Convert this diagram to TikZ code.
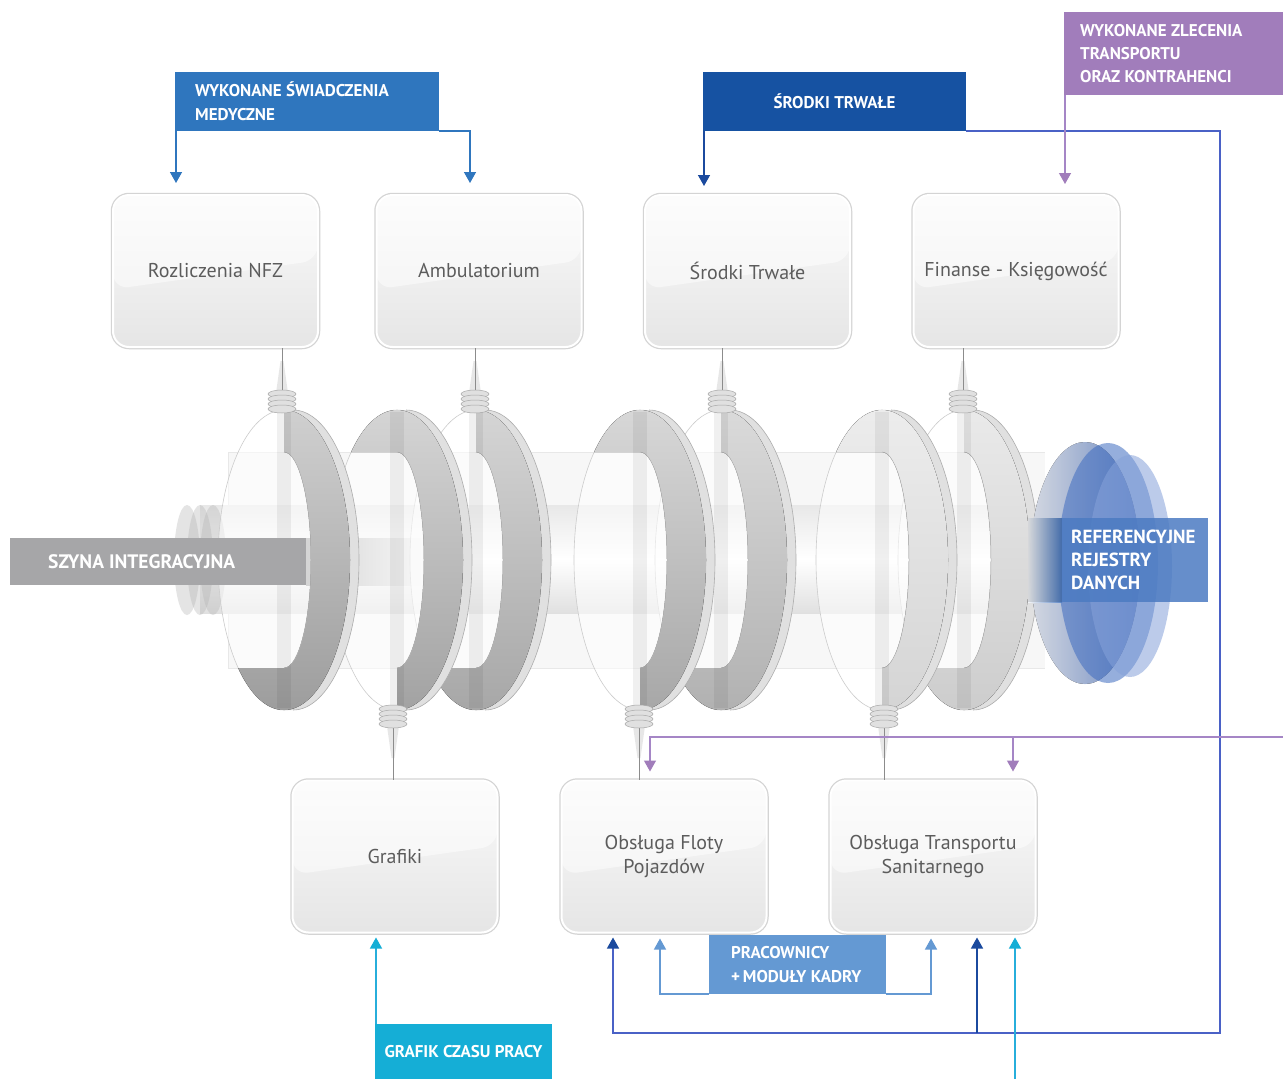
\documentclass[tikz,border=0pt]{standalone}
\usepackage{fontspec}
\setmainfont{PT Sans}
\usetikzlibrary{arrows.meta,calc}
\definecolor{cWSM}{HTML}{2F76BE}
\definecolor{cST}{HTML}{1652A2}
\definecolor{cZL}{HTML}{A17DBB}
\definecolor{cSZ}{HTML}{A6A6A8}
\definecolor{cRef}{HTML}{4C7BC2}
\definecolor{cPrac}{HTML}{6499D3}
\definecolor{cGraf}{HTML}{15AED6}
\definecolor{cBus}{HTML}{4A61C6}
\definecolor{cBusTip}{HTML}{1B4A9E}
\definecolor{cPur}{HTML}{A586C6}
\definecolor{cCyan}{HTML}{27AEDB}
\definecolor{cText}{HTML}{5C5C5C}
\definecolor{cD1}{HTML}{7393D2}
\definecolor{cD2}{HTML}{3F6CC0}
\definecolor{cD3}{HTML}{86A2DA}

\newcommand\ringbase[1]{%
  \fill[black!12] (#1,410) -- ({#1+9},410) arc[start angle=-90,end angle=90,x radius=66,y radius=150] -- (#1,710) arc[start angle=90,end angle=-90,x radius=66,y radius=150] -- cycle;
  \draw[black!32,line width=.6pt] ({#1+9},410) arc[start angle=-90,end angle=90,x radius=66,y radius=150];
  \fill[white,fill opacity=.55] (#1,560) ellipse[x radius=66,y radius=150];
  \draw[black!20,line width=.6pt] (#1,560) ellipse[x radius=66,y radius=150];
}
\newcommand\ringgray[4]{% cx, clip polygon, top, bottom
  \begin{scope}
    \clip (#1,560) ellipse[x radius=66,y radius=150];
    \clip #2;
    \fill[top color=#3,bottom color=#4,even odd rule] ({#1-80},400) rectangle ({#1+80},720) ({#1-80},452) -- (#1,452) arc[start angle=-90,end angle=90,x radius=27,y radius=108] -- ({#1-80},668) -- cycle;
  \end{scope}
  \draw[black!28,line width=.5pt] (#1,452) arc[start angle=-90,end angle=90,x radius=27,y radius=108];
  \fill[black,fill opacity=.06] ({#1-7},412) rectangle ({#1+7},708);
}
\newcommand\ringT[3]{\ringbase{#1}\ringgray{#1}{(#1,400) -- ({#1+80},400) -- ({#1+80},720) -- ({#1-80},720) -- ({#1-80},560) -- (#1,560) -- cycle}{#2}{#3}}
\newcommand\ringB[3]{\ringbase{#1}\ringgray{#1}{({#1-80},400) -- ({#1+80},400) -- ({#1+80},720) -- (#1,720) -- (#1,560) -- ({#1-80},560) -- cycle}{#2}{#3}}
\newcommand\nozzle[2]{%
  \foreach \dy in {-8,-3,2,7}{%
    \fill[black!12] (#1,{#2+\dy}) ellipse[x radius=14,y radius=4];
    \draw[black!35,line width=.5pt] (#1,{#2+\dy}) ellipse[x radius=14,y radius=4];}
}

\begin{document}
\begin{tikzpicture}[x=1pt,y=-1pt,
  modbox/.style={rectangle, rounded corners=16pt, minimum width=205pt, minimum height=152pt,
    draw=white, line width=2pt, preaction={draw=black!17, line width=4.5pt},
    top color=black!2, bottom color=black!10, text=cText, align=center,
    font=\fontsize{20}{24}\selectfont,
    path picture={\fill[white,fill opacity=.5] (path picture bounding box.north west) -- (path picture bounding box.north east) -- ($(path picture bounding box.north east)!.43!(path picture bounding box.south east)$) -- ($(path picture bounding box.north west)!.62!(path picture bounding box.south west)$) -- cycle;}},
  lblbox/.style={rectangle, inner sep=0pt, outer sep=0pt, anchor=north west},
  lbltext/.style={inner sep=0pt, text=white, align=left, font=\bfseries\fontsize{17}{24}\selectfont},
  tip/.style={-{Triangle[width=12pt,length=11pt]}},
  aWSM/.style={draw=cWSM, line width=1.4pt, tip},
  aST/.style={draw=cBus, line width=1.4pt, -{Triangle[width=12pt,length=11pt,color=cBusTip]}},
  aSTd/.style={draw=cBusTip, line width=1.4pt, tip},
  aPur/.style={draw=cPur, line width=1.3pt, -{Triangle[width=12pt,length=11pt,color=cZL]}},
  aPrac/.style={draw=cPrac, line width=1.3pt, tip},
  aCy/.style={draw=cCyan, line width=1.3pt, -{Triangle[width=12pt,length=11pt,color=cGraf]}},
  stem/.style={draw=black!45, line width=1pt},
  taper/.style={fill=black!18, fill opacity=.5}
]
\useasboundingbox (0,0) rectangle (1283,1079);
\fill[white] (0,0) rectangle (1283,1079);

% ---- integration cylinder ----
\fill[black!3] (228,452) rectangle (1045,668);
\draw[black!9,line width=.6pt] (228,668) -- (228,452) -- (1045,452) (228,668) -- (1045,668);
\fill[top color=black!9, bottom color=black!12, middle color=white] (200,505) rectangle (1045,613);
\foreach \xx in {187,200,213} \fill[black!30,fill opacity=.35] (\xx,560) ellipse[x radius=13,y radius=55];
\fill[left color=black!36, right color=black!5] (306,538) rectangle (428,585);

% rings, right to left
\ringT{964}{black!8}{black!20}
\ringB{882}{black!7}{black!17}
\ringT{721}{black!14}{black!31}
\ringB{640}{black!15}{black!35}
\ringT{476}{black!16}{black!35}
\ringB{397}{black!16}{black!37}
\ringT{284}{black!18}{black!39}

% reference registers discs
\fill[left color=cD1!15!white, right color=cD1, fill opacity=.9] (1085,563) ellipse[x radius=55,y radius=121];
\fill[cD2, fill opacity=.55] (1108,563) ellipse[x radius=50,y radius=120];
\fill[cD3, fill opacity=.55] (1130,566) ellipse[x radius=42,y radius=111];

% ---- side labels ----
\node[lblbox, fill=cSZ, minimum width=296pt, minimum height=47pt] (szyna) at (10,538) {};
\node[lbltext, anchor=west, font=\bfseries\fontsize{19.5}{24}\selectfont] (szynaT) at ([xshift=38pt]szyna.west) {SZYNA INTEGRACYJNA};

\fill[left color=cRef!5!white, right color=cRef, fill opacity=.85] (1028,518) rectangle (1062,602);
\node[lblbox, fill=cRef, fill opacity=.85, minimum width=146pt, minimum height=84pt] (ref) at (1062,518) {};
\node[lbltext, anchor=west, font=\bfseries\fontsize{19}{23}\selectfont] (refT) at ([xshift=9pt]ref.west) {REFERENCYJNE\\REJESTRY\\DANYCH};

% ---- module boxes ----
\node[modbox] (nfz) at (215.5,271) {Rozliczenia NFZ};
\node[modbox] (amb) at (479,271) {Ambulatorium};
\node[modbox] (srt) at (747.5,271) {Środki Trwałe};
\node[modbox] (fin) at (1016,271) {Finanse - Księgowość};
\node[modbox] (graf) at (395,856.5) {Grafiki};
\node[modbox] (floty) at (664,856.5) {Obsługa Floty\\Pojazdów};
\node[modbox] (trans) at (933,856.5) {Obsługa Transportu\\Sanitarnego};

% ---- stems and nozzles ----
\coordinate (nzA) at (282,393);
\coordinate (nzC) at (475,393);
\coordinate (nzE) at (722,393);
\coordinate (nzG) at (963,393);
\coordinate (nzB) at (393,726);
\coordinate (nzD) at (639,726);
\coordinate (nzF) at (884,726);
\foreach \n/\b in {nzA/nfz,nzC/amb,nzE/srt,nzG/fin}{
  \fill[taper] ($(\n)+(-1.5,-32)$) -- ($(\n)+(1.5,-32)$) -- ($(\n)+(6,0)$) -- ($(\n)+(-6,0)$) -- cycle;
  \draw[stem] (\b.south -| \n) -- (\n);
}
\foreach \n/\b in {nzB/graf,nzD/floty,nzF/trans}{
  \fill[taper] ($(\n)+(-1.5,32)$) -- ($(\n)+(1.5,32)$) -- ($(\n)+(6,0)$) -- ($(\n)+(-6,0)$) -- cycle;
  \draw[stem] (\b.north -| \n) -- (\n);
}
\nozzle{282}{402}\nozzle{475}{402}\nozzle{722}{402}\nozzle{963}{402}
\nozzle{393}{717}\nozzle{639}{717}\nozzle{884}{717}

% ---- top labels ----
\node[lblbox, fill=cWSM, minimum width=264pt, minimum height=59pt] (wsm) at (175,72) {};
\node[lbltext, anchor=west] (wsmT) at ([xshift=20pt]wsm.west) {WYKONANE ŚWIADCZENIA\\MEDYCZNE};
\node[lblbox, fill=cST, minimum width=263pt, minimum height=59pt] (st) at (703,72) {};
\node[lbltext] (stT) at (st.center) {ŚRODKI TRWAŁE};
\node[lblbox, fill=cZL, minimum width=222pt, minimum height=83pt] (zl) at (1064,12) {};
\node[lbltext, anchor=west, font=\bfseries\fontsize{17}{23}\selectfont] (zlT) at ([xshift=16pt]zl.west) {WYKONANE ZLECENIA\\TRANSPORTU\\ORAZ KONTRAHENCI};

% ---- bottom labels ----
\node[lblbox, fill=cPrac, minimum width=177pt, minimum height=59pt] (prac) at (709,935) {};
\node[lbltext, anchor=west] (pracT) at ([xshift=22pt]prac.west) {PRACOWNICY\\+\,MODUŁY KADRY};
\node[lblbox, fill=cGraf, minimum width=177pt, minimum height=56pt] (gcp) at (375,1024) {};
\node[lbltext] (gcpT) at (gcp.center) {GRAFIK CZASU PRACY};

% ---- connectors ----
\draw[aWSM, shorten >=11pt] ([xshift=1pt]wsm.south west) -- ([xshift=1pt]wsm.south west |- nfz.north);
\draw[aWSM, shorten >=11pt] (wsm.south east) -| ([xshift=-9pt]amb.north);
\draw[aSTd, shorten >=8pt] ([xshift=1pt]st.south west) -- ([xshift=1pt]st.south west |- srt.north);
\coordinate (busR) at (1220,1033);
\coordinate (busJ) at (977,1033);
\draw[aST, shorten >=4pt] (st.south east) -| (busR) -| ([xshift=-51pt]floty.south);
\draw[aSTd, shorten >=4pt] (busJ) -- (busJ |- trans.south);
\draw[aPur, shorten >=10pt] ([xshift=1pt]zl.south west) -- ([xshift=1pt]zl.south west |- fin.north);
\coordinate (purR) at (1283,737);
\coordinate (purJ) at (1013,737);
\draw[aPur, shorten >=8pt] (purR) -| ([xshift=-14pt]floty.north);
\draw[aPur, shorten >=8pt] (purJ) -- (purJ |- trans.north);
\draw[aPrac, shorten >=5pt] (prac.south west) -| ([xshift=-4pt]floty.south);
\draw[aPrac, shorten >=5pt] (prac.south east) -| ([xshift=-2pt]trans.south);
\draw[aCy, shorten >=4pt] ([xshift=1pt]gcp.north west) -- ([xshift=1pt]gcp.north west |- graf.south);
\coordinate (cyB) at (1015,1079);
\draw[aCy, shorten >=4pt] (cyB) -- (cyB |- trans.south);
\end{tikzpicture}
\end{document}
